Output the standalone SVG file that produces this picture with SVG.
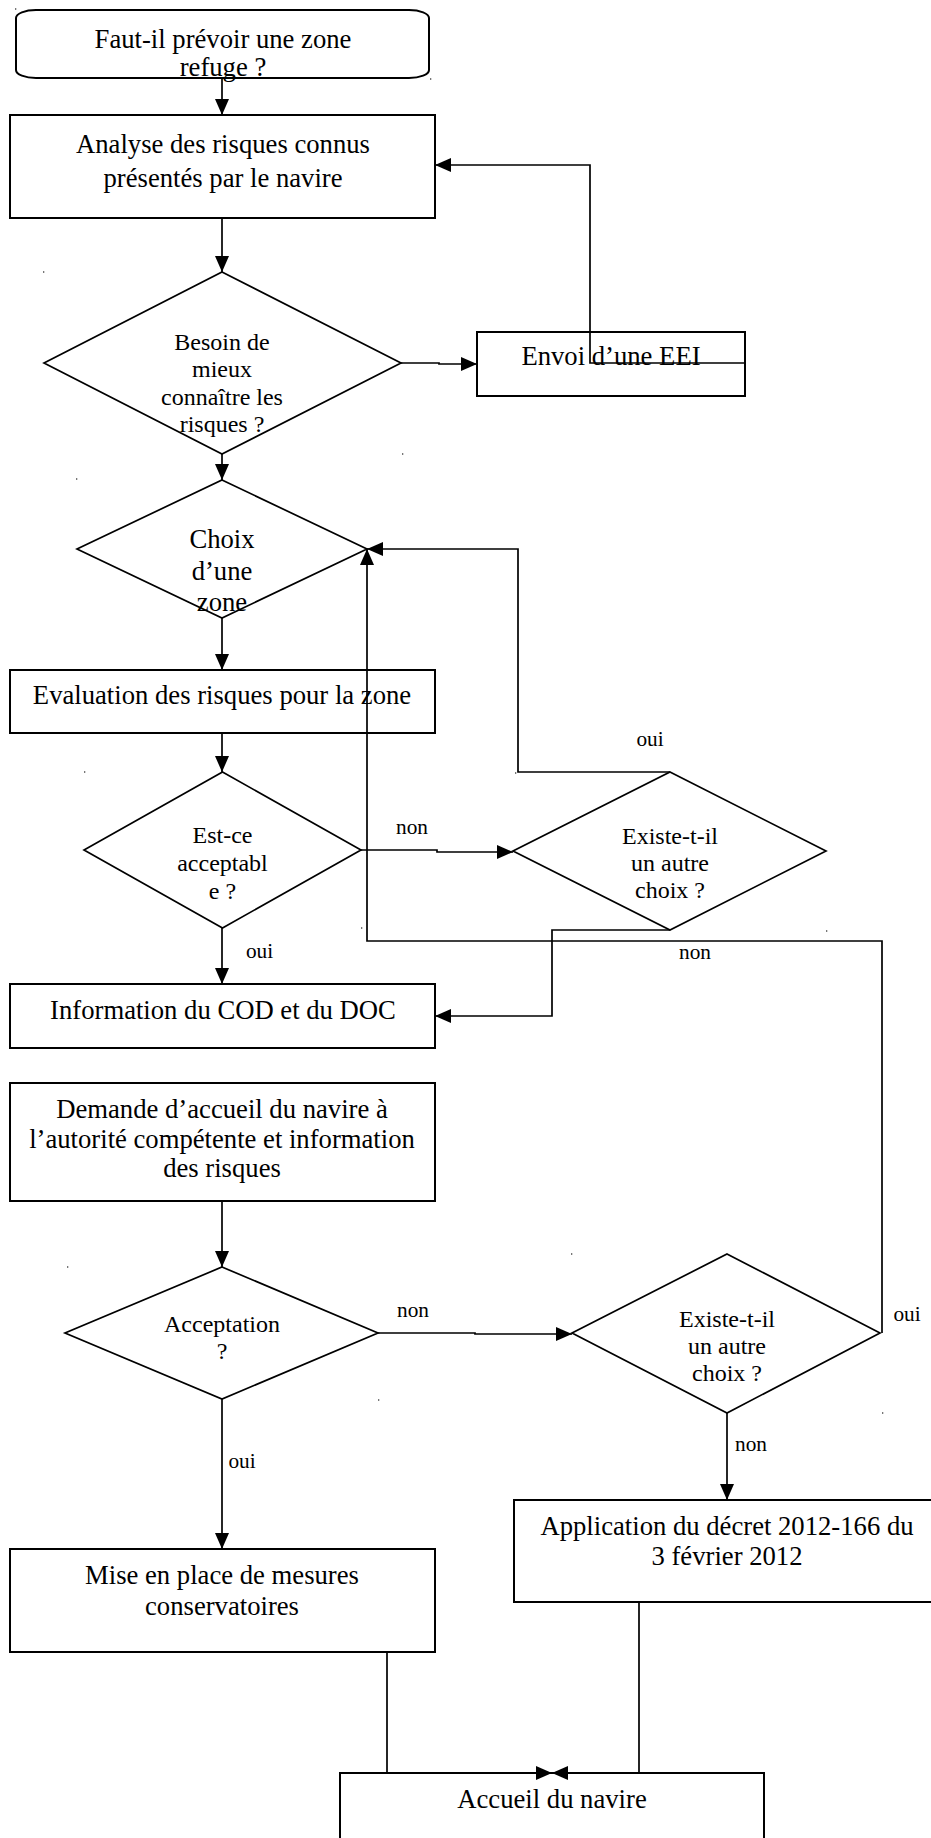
<svg xmlns="http://www.w3.org/2000/svg" width="931" height="1838" viewBox="0 0 931 1838">
  <style>
    .box { fill: none; stroke: #000; stroke-width: 2; }
    .dia { fill: none; stroke: #000; stroke-width: 1.7; }
    .wire { fill: none; stroke: #000; stroke-width: 1.7; }
    .arr { marker-end: url(#arrow); }
    text { font-family: "Liberation Serif", "Times New Roman", serif; fill: #000; text-anchor: middle; }
    .t20 { font-size: 26.67px; }
    .t18 { font-size: 24px; }
    .lbl { font-size: 21.3px; }
    .dot { fill: #777; }
  </style>
  <defs>
    <marker id="arrow" viewBox="0 0 16 14" refX="16" refY="7" markerWidth="16" markerHeight="14" markerUnits="userSpaceOnUse" orient="auto">
      <path d="M0,0 L16,7 L0,14 z" fill="#000"/>
    </marker>
  </defs>
  <rect width="931" height="1838" fill="#fff"/>

  <!-- start terminal -->
  <g id="start">
    <rect class="box" x="16" y="10" width="413" height="68" rx="20" ry="8"/>
    <text class="t20" x="223" y="48">Faut-il prévoir une zone</text>
    <text class="t20" x="223" y="76">refuge ?</text>
  </g>

  <g id="analyse">
    <rect class="box" x="10" y="115" width="425" height="103"/>
    <text class="t20" x="223" y="153">Analyse des risques connus</text>
    <text class="t20" x="223" y="187">présentés par le navire</text>
  </g>

  <g id="besoin">
    <polygon class="dia" points="222,272 401,363 222,454 44,363"/>
    <text class="t18" x="222" y="350">Besoin de</text>
    <text class="t18" x="222" y="377">mieux</text>
    <text class="t18" x="222" y="405">connaître les</text>
    <text class="t18" x="222" y="432">risques ?</text>
  </g>

  <g id="eei">
    <rect class="box" x="477" y="332" width="268" height="64"/>
    <text class="t20" x="611" y="365">Envoi d’une EEI</text>
  </g>

  <g id="choix">
    <polygon class="dia" points="222,480 367,549 222,618 77,549"/>
    <text class="t20" x="222" y="548">Choix</text>
    <text class="t20" x="222" y="580">d’une</text>
    <text class="t20" x="222" y="611">zone</text>
  </g>

  <g id="evaluation">
    <rect class="box" x="10" y="670" width="425" height="63"/>
    <text class="t20" x="222" y="704">Evaluation des risques pour la zone</text>
  </g>

  <g id="acceptable">
    <polygon class="dia" points="222.5,772 361,850 222.5,928 84,850"/>
    <text class="t18" x="222.5" y="843">Est-ce</text>
    <text class="t18" x="222.5" y="871">acceptabl</text>
    <text class="t18" x="222.5" y="899">e ?</text>
  </g>

  <g id="autre-choix-1">
    <polygon class="dia" points="670,772 826,851 670,930 513,851"/>
    <text class="t18" x="670" y="844">Existe-t-il</text>
    <text class="t18" x="670" y="871">un autre</text>
    <text class="t18" x="670" y="898">choix ?</text>
  </g>

  <g id="information">
    <rect class="box" x="10" y="984" width="425" height="64"/>
    <text class="t20" x="223" y="1019">Information du COD et du DOC</text>
  </g>

  <g id="demande">
    <rect class="box" x="10" y="1083" width="425" height="118"/>
    <text class="t20" x="222" y="1118">Demande d’accueil du navire à</text>
    <text class="t20" x="222" y="1148">l’autorité compétente et information</text>
    <text class="t20" x="222" y="1177">des risques</text>
  </g>

  <g id="acceptation">
    <polygon class="dia" points="222,1267 378,1333 222,1399 65,1333"/>
    <text class="t18" x="222" y="1332">Acceptation</text>
    <text class="t18" x="222" y="1359">?</text>
  </g>

  <g id="autre-choix-2">
    <polygon class="dia" points="727,1254 880,1333 727,1413 572,1333"/>
    <text class="t18" x="727" y="1327">Existe-t-il</text>
    <text class="t18" x="727" y="1354">un autre</text>
    <text class="t18" x="727" y="1381">choix ?</text>
  </g>

  <g id="mesures">
    <rect class="box" x="10" y="1549" width="425" height="103"/>
    <text class="t20" x="222" y="1584">Mise en place de mesures</text>
    <text class="t20" x="222" y="1615">conservatoires</text>
  </g>

  <g id="decret">
    <rect class="box" x="514" y="1500" width="425" height="102"/>
    <text class="t20" x="727" y="1535">Application du décret 2012-166 du</text>
    <text class="t20" x="727" y="1565">3 février 2012</text>
  </g>

  <g id="accueil">
    <rect class="box" x="340" y="1773" width="424" height="103"/>
    <text class="t20" x="552" y="1808">Accueil du navire</text>
  </g>

  <!-- connectors -->
  <g id="connectors">
    <path class="wire arr" d="M222,78 V115"/>
    <path class="wire arr" d="M222,218 V272"/>
    <path class="wire arr" d="M401,363 H439 V364 H477"/>
    <path class="wire arr" d="M745,363 H590 V165 H435"/>
    <path class="wire arr" d="M222,454 V480"/>
    <path class="wire arr" d="M222,618 V670"/>
    <path class="wire arr" d="M222,733 V772"/>
    <path class="wire arr" d="M361,850 H437 V852 H513"/>
    <path class="wire arr" d="M670,772 H518 V549 H367"/>
    <path class="wire arr" d="M670,930 H552 V1016 H435"/>
    <path class="wire arr" d="M222,928 V984"/>
    <path class="wire arr" d="M882,1333 V941 H367 V549"/>
    <path class="wire arr" d="M222,1201 V1267"/>
    <path class="wire arr" d="M378,1333 H475 V1334 H572"/>
    <path class="wire arr" d="M222,1399 V1549"/>
    <path class="wire arr" d="M727,1413 V1500"/>
    <path class="wire arr" d="M387,1652 V1773 H552"/>
    <path class="wire arr" d="M639,1602 V1773 H552"/>
  </g>

  <!-- branch labels -->
  <g id="labels">
    <text class="lbl" x="650" y="746">oui</text>
    <text class="lbl" x="412" y="834">non</text>
    <text class="lbl" x="259.5" y="958">oui</text>
    <text class="lbl" x="695" y="959">non</text>
    <text class="lbl" x="413" y="1317">non</text>
    <text class="lbl" x="907" y="1321">oui</text>
    <text class="lbl" x="751" y="1451">non</text>
    <text class="lbl" x="242" y="1468">oui</text>
  </g>

  <!-- frame anchor marks -->
  <g id="anchors">
    <rect class="dot" x="15" y="8" width="1.3" height="2"/>
    <rect class="dot" x="430" y="78" width="1.3" height="2"/>
    <rect class="dot" x="43" y="271" width="1.3" height="2"/>
    <rect class="dot" x="402" y="453" width="1.3" height="2"/>
    <rect class="dot" x="76" y="478" width="1.3" height="2"/>
    <rect class="dot" x="84" y="771" width="1.3" height="2"/>
    <rect class="dot" x="361" y="927" width="1.3" height="2"/>
    <rect class="dot" x="515" y="772" width="1.3" height="2"/>
    <rect class="dot" x="826" y="930" width="1.3" height="2"/>
    <rect class="dot" x="67" y="1266" width="1.3" height="2"/>
    <rect class="dot" x="378" y="1399" width="1.3" height="2"/>
    <rect class="dot" x="571" y="1253" width="1.3" height="2"/>
    <rect class="dot" x="882" y="1412" width="1.3" height="2"/>
  </g>
</svg>
